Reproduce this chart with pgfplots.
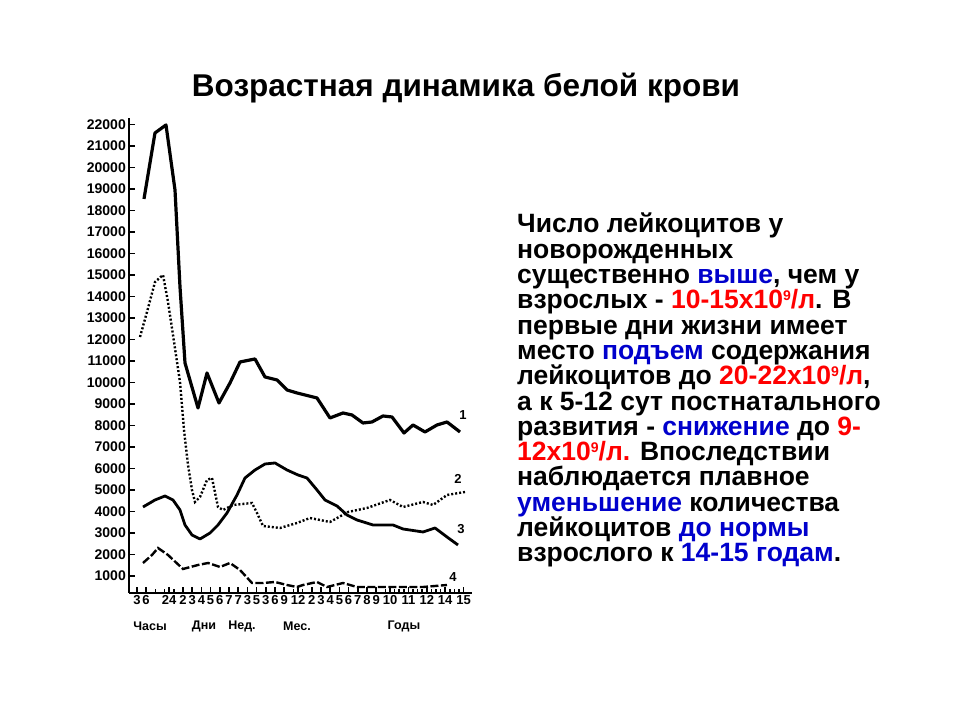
\documentclass[border=0pt]{standalone}
\usepackage{fontspec}
\setmainfont{Liberation Sans}
\usepackage{pgfplots}
\pgfplotsset{compat=1.18}
\usepackage{pgfplotstable}
\definecolor{tblue}{RGB}{0,0,204}
\definecolor{tred}{RGB}{255,0,0}
\newcommand{\sn}{\raisebox{0.62ex}{\fontsize{14bp}{14bp}\selectfont 9}}

\pgfplotstableread{
x y
144 18535
155 21605
166 21977
175 18953
180 14442
185 10907
198 8814
207 10442
219 9047
230 9977
240 10953
255 11093
265 10256
277 10116
287 9651
297 9512
317 9279
330 8349
343 8581
352 8488
363 8116
372 8163
383 8442
392 8395
404 7651
413 8023
425 7698
437 8023
447 8163
460 7698
}\lineone

\pgfplotstableread{
x y
140 12116
147 13279
155 14674
163 15000
168 13744
173 12209
180 10023
184 7791
188 6163
192 5000
195 4442
200 4674
207 5465
212 5558
218 4209
223 4070
233 4302
252 4395
257 3930
263 3326
280 3233
297 3465
310 3698
330 3512
348 3977
367 4163
390 4535
403 4209
423 4442
433 4302
447 4767
465 4907
}\linetwo

\pgfplotstableread{
x y
143 4209
155 4535
165 4721
173 4535
180 4070
185 3372
192 2907
200 2721
210 3000
218 3372
227 3930
237 4767
245 5558
255 5930
265 6209
275 6256
287 5930
298 5698
307 5558
317 5000
325 4535
337 4256
347 3837
357 3605
373 3372
393 3372
403 3186
423 3047
435 3233
447 2814
458 2442
}\linethree

\pgfplotstableread{
x y
143 1605
152 1977
158 2302
168 1977
183 1326
198 1512
208 1605
220 1419
230 1605
240 1279
252 674
263 674
275 721
287 581
297 488
303 581
317 721
327 488
343 674
357 488
377 488
400 488
423 488
447 581
}\linefour

\begin{document}
\begin{tikzpicture}
\path[use as bounding box, fill=white] (0bp,0bp) rectangle (960bp,720bp);

\node[anchor=base, inner sep=0pt, font=\fontsize{31.5bp}{34bp}\selectfont\bfseries] at (466bp,623bp) {Возрастная динамика белой крови};

\begin{axis}[
  at={(129bp,127bp)}, anchor=south west,
  scale only axis, width=343bp, height=475bp,
  xmin=129, xmax=472, ymin=209, ymax=22300,
  axis x line=bottom, axis y line=left,
  axis line style={-, line width=2.2bp, black},
  tick align=inside, major tick length=6bp, minor tick length=4bp,
  tick style={line width=1.5bp, black},
  scaled y ticks=false, scaled x ticks=false,
  xtick={137,146,169.2,183,192.2,201.4,210.6,219.8,229,238.2,247.4,256.6,265.8,275,284.2,298,311.8,321,330.2,339.4,348.6,357.8,367,376.2,390,408.4,426.8,445.2,463.6},
  xticklabels={3,6,24,2,3,4,5,6,7,7,3,5,3,6,9,12,2,3,4,5,6,7,8,9,10,11,12,14,15},
  minor xtick={155.4,164.6,174,293.4,302.6,385.4,394.6,399.2,403.8,413,417.6,422.2,431.4,436,440.6,449.8,454.4,459},
  ytick={1000,2000,3000,4000,5000,6000,7000,8000,9000,10000,11000,12000,13000,14000,15000,16000,17000,18000,19000,20000,21000,22000},
  yticklabels={1000,2000,3000,4000,5000,6000,7000,8000,9000,10000,11000,12000,13000,14000,15000,16000,17000,18000,19000,20000,21000,22000},
  xticklabel style={font=\fontsize{13bp}{13bp}\selectfont\bfseries, inner sep=2bp},
  yticklabel style={font=\fontsize{14bp}{14bp}\selectfont\bfseries, inner sep=3bp},
  clip=false,
]
\addplot[black, line width=3.2bp, line join=round] table[x=x,y=y]{\lineone};
\addplot[black, line width=2.4bp, dash pattern=on 2bp off 2bp] table[x=x,y=y]{\linetwo};
\addplot[black, line width=2.8bp, line join=round] table[x=x,y=y]{\linethree};
\addplot[black, line width=2.4bp, dash pattern=on 8bp off 2.5bp] table[x=x,y=y]{\linefour};
\node[font=\fontsize{13bp}{13bp}\selectfont\bfseries\rmfamily] at (axis cs:463,8500) {1};
\node[font=\fontsize{13bp}{13bp}\selectfont\bfseries\rmfamily] at (axis cs:458,5500) {2};
\node[font=\fontsize{13bp}{13bp}\selectfont\bfseries\rmfamily] at (axis cs:461,3200) {3};
\node[font=\fontsize{13bp}{13bp}\selectfont\bfseries\rmfamily] at (axis cs:453,950) {4};
\end{axis}

\begin{scope}[every node/.style={font=\fontsize{12.5bp}{12.5bp}\selectfont\bfseries}]
\node at (150bp,94bp) {Часы};
\node at (204bp,94bp) {Дни};
\node at (242bp,94bp) {Нед.};
\node at (297bp,94bp) {Мес.};
\node at (404bp,94bp) {Годы};
\end{scope}

\begin{scope}[every node/.style={anchor=base west, inner sep=0pt, font=\fontsize{26.5bp}{26bp}\selectfont\bfseries}]
\node at (517bp,487.0bp) {Число лейкоцитов у};
\node at (517bp,461.7bp) {новорожденных};
\node at (517bp,436.4bp) {существенно \textcolor{tblue}{выше}, чем у};
\node at (517bp,411.1bp) {взрослых - \textcolor{tred}{10-15х10\sn/л}. В};
\node at (517bp,385.8bp) {первые дни жизни имеет};
\node at (517bp,360.5bp) {место \textcolor{tblue}{подъем} содержания};
\node at (517bp,335.2bp) {лейкоцитов до \textcolor{tred}{20-22х10\sn/л},};
\node at (517bp,309.9bp) {а к 5-12 сут постнатального};
\node at (517bp,284.6bp) {развития - \textcolor{tblue}{снижение} до \textcolor{tred}{9-}};
\node at (517bp,259.3bp) {\textcolor{tred}{12х10\sn/л.} Впоследствии};
\node at (517bp,234.0bp) {наблюдается плавное};
\node at (517bp,208.7bp) {\textcolor{tblue}{уменьшение} количества};
\node at (517bp,183.4bp) {лейкоцитов \textcolor{tblue}{до нормы}};
\node at (517bp,158.1bp) {взрослого к \textcolor{tblue}{14-15 годам}.};
\end{scope}
\end{tikzpicture}
\end{document}
